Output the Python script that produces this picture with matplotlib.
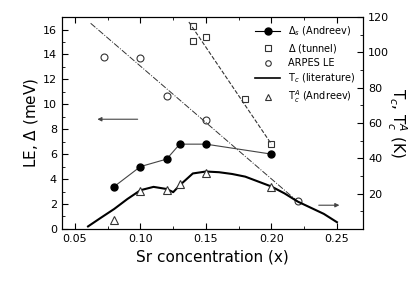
import numpy as np
import matplotlib
matplotlib.use('Agg')
import matplotlib.pyplot as plt
from matplotlib.lines import Line2D

# Delta_s (Andreev), meV
andreev_x = [0.08, 0.10, 0.12, 0.13, 0.15, 0.20]
andreev_gap = [3.4, 5.0, 5.6, 6.8, 6.8, 6.0]

# Delta (tunnel), meV
tunnel_x = [0.14, 0.14, 0.15, 0.18, 0.20]
tunnel_gap = [16.3, 15.1, 15.4, 10.4, 6.8]
tunnel_fit_x = [0.137, 0.20]
tunnel_fit_y = [16.6, 6.8]

# ARPES leading edge, meV
arpes_x = [0.072, 0.10, 0.12, 0.15, 0.22]
arpes_le = [13.8, 13.7, 10.7, 8.7, 2.2]
arpes_fit_x = [0.062, 0.22]
arpes_fit_y = [16.5, 2.2]

# Tc (literature), K
tc_x = [0.06, 0.07, 0.08, 0.09, 0.10, 0.11, 0.12, 0.125, 0.13, 0.14, 0.15,
        0.16, 0.17, 0.18, 0.19, 0.20, 0.21, 0.22, 0.23, 0.24, 0.25]
tc_lit = [1.4, 6.4, 11.3, 16.9, 21.9, 23.8, 22.6, 20.8, 24.7, 31.4, 32.5,
          32.1, 31.1, 29.6, 26.8, 24.0, 20.1, 15.5, 12.0, 8.5, 3.8]

# Tc^A (Andreev), K
tca_x = [0.08, 0.10, 0.12, 0.13, 0.15, 0.20]
tca = [5.0, 21.2, 21.9, 25.4, 31.8, 24.0]

fig = plt.figure(figsize=(4.15, 2.89), dpi=100)
ax = fig.add_axes([0.149, 0.208, 0.726, 0.733])
ax2 = ax.twinx()

ax.plot(andreev_x, andreev_gap, '-', color='#444444', lw=0.8, marker='o', ms=5,
        mfc='black', mec='black')
ax.plot(tunnel_x, tunnel_gap, 's', ms=5, mfc='white', mec='#333333', mew=0.8)
ax.plot(tunnel_fit_x, tunnel_fit_y, '--', color='#333333', lw=0.8)
ax.plot(arpes_x, arpes_le, 'o', ms=5, mfc='white', mec='#333333', mew=0.8)
ax.plot(arpes_fit_x, arpes_fit_y, '-.', color='#333333', lw=0.7)

ax2.plot(tc_x, tc_lit, '-', color='black', lw=1.5)
ax2.plot(tca_x, tca, '^', ms=5.5, mfc='white', mec='#333333', mew=0.8)

# arrows pointing at each axis
ax.annotate('', xy=(0.065, 8.8), xytext=(0.10, 8.8),
            arrowprops=dict(arrowstyle='-|>', color='#444444', lw=0.8, mutation_scale=6))
ax.annotate('', xy=(0.254, 1.9), xytext=(0.234, 1.9),
            arrowprops=dict(arrowstyle='-|>', color='#444444', lw=0.8, mutation_scale=6))

ax.set_xlim(0.04, 0.27)
ax.set_ylim(0, 17)
ax2.set_ylim(0, 120)
ax.set_xticks([0.05, 0.10, 0.15, 0.20, 0.25])
ax.set_xticklabels(['0.05', '0.10', '0.15', '0.20', '0.25'])
ax.set_xticks(np.arange(0.075, 0.27, 0.05), minor=True)
ax.set_yticks(range(0, 17, 2))
ax.set_yticks(range(1, 17, 2), minor=True)
ax2.set_yticks(range(20, 121, 20))
ax2.set_yticks(range(10, 121, 20), minor=True)

ax.tick_params(which='both', direction='in', top=True, labelsize=8)
ax.tick_params(which='major', length=4)
ax.tick_params(which='minor', length=2)
ax2.tick_params(which='both', direction='in', labelsize=8)
ax2.tick_params(which='major', length=4)
ax2.tick_params(which='minor', length=2)

ax.set_xlabel('Sr concentration (x)', fontsize=11)
ax.set_ylabel('LE, $\\Delta$ (meV)', fontsize=11, labelpad=2)
ax2.set_ylabel('T$_c$, T$_c^A$ (K)', fontsize=11, rotation=270, labelpad=14)

handles = [
    Line2D([], [], color='black', lw=0.8, marker='o', ms=5, mfc='black'),
    Line2D([], [], ls='none', marker='s', ms=4, mfc='white', mec='#333333', mew=0.8),
    Line2D([], [], ls='none', marker='o', ms=4, mfc='white', mec='#333333', mew=0.8),
    Line2D([], [], color='black', lw=1.2),
    Line2D([], [], ls='none', marker='^', ms=4.5, mfc='white', mec='#333333', mew=0.8),
]
labels = ['$\\Delta_s$ (Andreev)', '$\\Delta$ (tunnel)', 'ARPES LE',
          'T$_c$ (literature)', 'T$_c^A$ (Andreev)']
ax.legend(handles, labels, loc='upper right', frameon=False, fontsize=7,
          handlelength=2.6, labelspacing=0.35, borderaxespad=0.4)

fig.savefig('out.png', dpi=100)
